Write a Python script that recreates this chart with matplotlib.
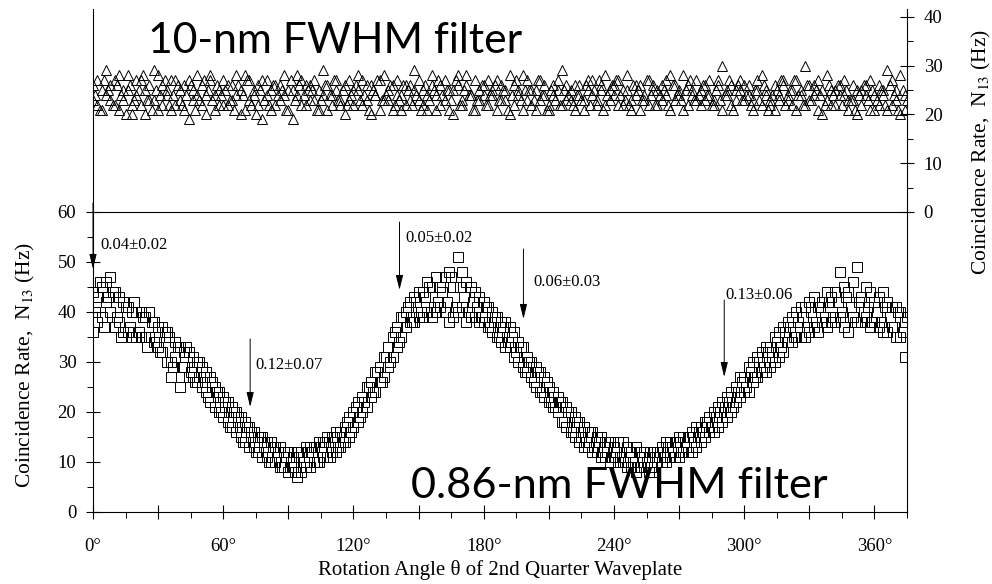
import matplotlib as mpl

mpl.use("agg")

import matplotlib.pyplot as plt
from matplotlib.ticker import MultipleLocator, FuncFormatter

# waveplate angle grids (degrees): even steps for passes A/B, odd steps for pass C
angle = list(range(0, 375, 2))
angle_odd = list(range(1, 376, 2))

# 0.86-nm filter coincidence rate (Hz)
narrow_a = [
    44, 38, 45, 42, 47, 37, 43, 36, 41, 35,
    40, 35, 39, 35, 38, 33, 37, 30, 27, 31,
    33, 29, 32, 27, 30, 25, 28, 22, 25, 20,
    23, 18, 21, 16, 19, 14, 17, 13, 15, 11,
    14, 10, 13, 9, 12, 8, 11, 7, 12, 9,
    13, 10, 14, 11, 15, 12, 16, 13, 17, 15,
    20, 18, 23, 21, 26, 24, 29, 27, 33, 31,
    37, 35, 40, 38, 43, 39, 44, 40, 45, 40,
    45, 40, 48, 39, 51, 41, 46, 39, 44, 38,
    42, 37, 40, 35, 38, 33, 37, 31, 34, 29,
    31, 27, 29, 24, 27, 22, 24, 20, 22, 17,
    20, 15, 18, 13, 16, 12, 15, 11, 14, 10,
    13, 10, 14, 9, 12, 8, 12, 9, 11, 8,
    12, 10, 14, 11, 14, 11, 15, 12, 16, 13,
    17, 15, 19, 16, 21, 18, 23, 20, 25, 23,
    27, 24, 30, 27, 32, 28, 33, 30, 36, 32,
    38, 34, 40, 35, 41, 36, 43, 36, 42, 37,
    43, 38, 48, 37, 44, 39, 49, 38, 45, 37,
    42, 37, 44, 36, 41, 35, 40, 31,
]
narrow_b = [
    36, 43, 39, 46, 40, 44, 38, 42, 36, 40,
    35, 40, 35, 40, 34, 37, 32, 36, 30, 34,
    25, 32, 27, 31, 26, 29, 24, 27, 21, 24,
    19, 22, 17, 20, 15, 18, 13, 16, 12, 15,
    11, 14, 10, 13, 9, 12, 9, 12, 8, 13,
    9, 13, 10, 14, 11, 15, 12, 16, 14, 19,
    17, 22, 20, 25, 23, 28, 26, 31, 29, 35,
    33, 39, 37, 42, 38, 44, 39, 46, 39, 47,
    41, 47, 38, 45, 40, 48, 38, 45, 39, 43,
    38, 41, 36, 39, 34, 38, 33, 36, 30, 33,
    28, 30, 25, 28, 23, 25, 21, 23, 18, 21,
    16, 19, 14, 17, 13, 16, 12, 15, 11, 14,
    11, 14, 10, 13, 9, 13, 9, 12, 8, 12,
    10, 13, 10, 14, 11, 15, 12, 15, 12, 17,
    14, 18, 16, 20, 17, 22, 19, 24, 22, 27,
    24, 29, 26, 31, 28, 33, 29, 35, 31, 37,
    34, 39, 35, 41, 35, 42, 37, 41, 38, 44,
    38, 44, 39, 45, 36, 46, 38, 43, 39, 44,
    38, 43, 36, 42, 37, 41, 35, 38,
]
narrow_c = [
    40, 46, 37, 43, 44, 39, 35, 41, 37, 42,
    36, 39, 33, 38, 34, 32, 36, 35, 29, 33,
    29, 33, 28, 26, 30, 27, 23, 26, 24, 20,
    22, 17, 20, 19, 14, 17, 16, 12, 15, 14,
    10, 13, 12, 9, 11, 10, 8, 11, 10, 12,
    12, 10, 13, 14, 11, 15, 13, 14, 18, 16,
    21, 19, 22, 25, 24, 28, 26, 31, 30, 36,
    34, 39, 41, 38, 42, 40, 43, 45, 41, 42,
    44, 42, 47, 41, 45, 43, 40, 42, 41, 39,
    41, 37, 39, 35, 37, 34, 35, 32, 33, 28,
    30, 26, 28, 24, 26, 22, 21, 22, 18, 20,
    16, 18, 15, 14, 16, 13, 14, 12, 13, 11,
    12, 11, 10, 12, 10, 9, 11, 10, 9, 11,
    12, 11, 13, 12, 14, 12, 13, 15, 14, 16,
    16, 18, 17, 19, 20, 21, 22, 21, 24, 26,
    25, 28, 27, 30, 29, 32, 31, 34, 33, 36,
    37, 35, 38, 39, 37, 40, 38, 41, 39, 42,
    39, 42, 40, 43, 41, 38, 42, 40, 41, 38,
    40, 38, 41, 39, 37, 40, 36, 39,
]

# 10-nm filter coincidence rate (Hz)
wide_a = [
    26, 22, 25, 29, 23, 27, 21, 25, 28, 22,
    24, 27, 20, 26, 23, 28, 22, 25, 21, 27,
    23, 26, 19, 25, 28, 22, 24, 27, 21, 25,
    27, 22, 26, 24, 20, 28, 23, 25, 22, 27,
    24, 21, 26, 23, 28, 25, 19, 24, 27, 22,
    26, 23, 25, 29, 21, 24, 27, 22, 26, 23,
    25, 28, 22, 26, 20, 24, 27, 23, 25, 21,
    27, 24, 22, 26, 29, 23, 25, 21, 26, 24,
    22, 27, 25, 20, 26, 23, 28, 24, 21, 25,
    26, 22, 24, 27, 23, 25, 20, 26, 24, 28,
    23, 25, 21, 27, 24, 22, 26, 25, 29, 23,
    25, 21, 26, 23, 27, 24, 22, 25, 28, 23,
    24, 27, 22, 25, 23, 26, 21, 24, 27, 25,
    22, 26, 24, 28, 23, 25, 21, 26, 24, 27,
    25, 23, 27, 22, 26, 30, 24, 22, 25, 27,
    23, 26, 21, 25, 28, 24, 22, 26, 23, 27,
    24, 22, 27, 25, 30, 23, 26, 21, 25, 28,
    22, 25, 24, 27, 23, 26, 20, 25, 24, 27,
    21, 26, 24, 29, 22, 25, 20, 24,
]
wide_b = [
    23, 27, 21, 24, 26, 22, 28, 23, 25, 20,
    27, 22, 25, 23, 29, 21, 26, 24, 27, 22,
    25, 21, 27, 23, 24, 26, 20, 28, 24, 22,
    22, 26, 23, 28, 25, 21, 27, 24, 26, 19,
    27, 25, 22, 26, 24, 21, 25, 28, 22, 26,
    23, 27, 21, 24, 26, 22, 25, 23, 20, 27,
    22, 25, 27, 23, 26, 24, 21, 28, 23, 26,
    24, 21, 26, 23, 25, 27, 22, 24, 28, 21,
    26, 23, 21, 25, 28, 22, 26, 24, 27, 23,
    24, 27, 25, 21, 26, 23, 28, 22, 25, 21,
    27, 22, 25, 23, 26, 21, 24, 27, 22, 26,
    23, 26, 24, 21, 25, 27, 23, 26, 22, 25,
    26, 22, 25, 28, 21, 24, 26, 23, 22, 26,
    25, 23, 27, 21, 26, 24, 28, 22, 25, 23,
    22, 26, 24, 23, 27, 21, 25, 26, 23, 25,
    26, 24, 23, 27, 22, 25, 23, 21, 24, 26,
    23, 25, 21, 24, 22, 26, 24, 27, 20, 23,
    25, 22, 26, 24, 21, 23, 25, 22, 26, 21,
    24, 22, 25, 21, 27, 23, 28, 21,
]
wide_c = [
    24, 21, 27, 25, 22, 26, 24, 20, 26, 23,
    25, 28, 23, 21, 25, 24, 27, 22, 24, 26,
    22, 24, 26, 21, 23, 27, 25, 23, 26, 24,
    25, 23, 21, 26, 24, 27, 22, 20, 25, 23,
    22, 26, 24, 25, 21, 27, 23, 26, 24, 25,
    25, 21, 23, 26, 24, 27, 23, 25, 22, 24,
    26, 23, 24, 21, 25, 27, 23, 24, 26, 22,
    23, 26, 25, 22, 24, 21, 26, 23, 25, 27,
    24, 25, 23, 27, 22, 25, 24, 21, 23, 26,
    22, 24, 26, 23, 25, 21, 24, 27, 23, 25,
    25, 23, 27, 24, 21, 25, 23, 22, 25, 24,
    22, 24, 23, 26, 22, 25, 27, 21, 24, 26,
    27, 24, 23, 22, 26, 25, 23, 27, 24, 22,
    24, 25, 22, 26, 24, 23, 25, 27, 23, 24,
    26, 24, 22, 25, 23, 24, 27, 21, 26, 23,
    24, 22, 25, 23, 26, 21, 24, 25, 27, 22,
    25, 27, 24, 22, 26, 23, 25, 24, 22, 26,
    24, 26, 22, 25, 23, 21, 24, 26, 23, 25,
    23, 25, 22, 26, 24, 21, 25, 23,
]

# visibility arrows: angle, arrow top, arrow tip, label
arrow_angle = [0, 72.4, 141.2, 198.3, 290.8]
arrow_top = [61.8, 34.6, 58.0, 52.6, 42.4]
arrow_tip = [48.6, 21.0, 44.4, 38.6, 27.0]
arrow_text = ["0.04\u00b10.02", "0.12\u00b10.07", "0.05\u00b10.02",
              "0.06\u00b10.03", "0.13\u00b10.06"]
text_angle = [3.2, 74.7, 143.8, 202.9, 291.4]
text_y = [53.4, 29.4, 54.8, 46.0, 43.4]

serif = "Liberation Serif"
W, H = 992, 584
mk = dict(ls="none", ms=7.5, mfc="none", mec="black", mew=0.7)

fig = plt.figure(figsize=(W / 100, H / 100), dpi=100)
ax_bot = fig.add_axes([93 / W, (H - 512) / H, 814 / W, 300 / H])
ax_top = fig.add_axes([93 / W, (H - 212) / H, 814 / W, 203 / H])

# only every second major x tick gets a label
deg = FuncFormatter(lambda v, p: "%d\u00b0" % v if round(v) % 60 == 0 else "")

# lower panel: narrow filter
ax_bot.plot(angle, narrow_a, marker="s", **mk)
ax_bot.plot(angle, narrow_b, marker="s", **mk)
ax_bot.plot(angle_odd, narrow_c, marker="s", **mk)
ax_bot.set_xlim(0, 375)
ax_bot.set_ylim(0, 60)
ax_bot.xaxis.set_major_locator(MultipleLocator(30))
ax_bot.xaxis.set_minor_locator(MultipleLocator(15))
ax_bot.xaxis.set_major_formatter(deg)
ax_bot.yaxis.set_major_locator(MultipleLocator(10))
ax_bot.yaxis.set_minor_locator(MultipleLocator(5))
ax_bot.tick_params(which="major", direction="inout", length=10, width=0.8,
                   labelsize=13.5, pad=7)
ax_bot.tick_params(axis="x", which="major", pad=14)
ax_bot.tick_params(which="minor", direction="out", length=4, width=0.7)
for lab in ax_bot.get_xticklabels() + ax_bot.get_yticklabels():
    lab.set_fontfamily(serif)
for sp in ax_bot.spines.values():
    sp.set_linewidth(0.8)

ax_bot.set_xlabel("Rotation Angle \u03b8 of 2nd Quarter Waveplate",
                  fontfamily=serif, fontsize=15, labelpad=3)

for a, y0, y1, t, tx, ty in zip(arrow_angle, arrow_top, arrow_tip, arrow_text,
                                text_angle, text_y):
    ax_bot.annotate("", xy=(a, y1), xytext=(a, y0),
                    arrowprops=dict(arrowstyle="-|>,head_length=0.9,head_width=0.22",
                                    color="black", lw=0.7, shrinkA=0, shrinkB=0),
                    annotation_clip=False)
    ax_bot.text(tx, ty, t, fontfamily=serif, fontsize=12, va="center",
                ha="left")

# upper panel: wide filter
ax_top.plot(angle, wide_a, marker="^", **mk)
ax_top.plot(angle, wide_b, marker="^", **mk)
ax_top.plot(angle_odd, wide_c, marker="^", **mk)
ax_top.set_xlim(0, 375)
ax_top.set_ylim(0, 41.6)
ax_top.patch.set_visible(False)
ax_top.spines["top"].set_visible(False)
ax_top.spines["bottom"].set_visible(False)
for sp in ax_top.spines.values():
    sp.set_linewidth(0.8)
ax_top.set_xticks([])
ax_top.yaxis.tick_right()
ax_top.yaxis.set_major_locator(MultipleLocator(10))
ax_top.yaxis.set_minor_locator(MultipleLocator(5))
ax_top.tick_params(axis="y", which="major", direction="inout", length=10,
                   width=0.8, labelsize=13.5, pad=7)
ax_top.tick_params(axis="y", which="minor", direction="out", length=4, width=0.7)
for lab in ax_top.get_yticklabels():
    lab.set_fontfamily(serif)

ylab = "Coincidence Rate,  N$_{13}$ (Hz)"
fig.text(25 / W, 1 - 365 / H, ylab, rotation=90, ha="center", va="center",
         fontfamily=serif, fontsize=15.5, math_fontfamily="stix")
fig.text(981 / W, 1 - 152 / H, ylab, rotation=90, ha="center", va="center",
         fontfamily=serif, fontsize=15.5, math_fontfamily="stix")

# filter captions
fig.text(148 / W, 1 - 53 / H, "10-nm FWHM filter", fontfamily="Lato",
         fontsize=30.7, ha="left", va="baseline")
fig.text(411 / W, 1 - 498 / H, "0.86-nm FWHM filter", fontfamily="Lato",
         fontsize=31.2, ha="left", va="baseline")

plt.savefig("out.png", dpi=100)
